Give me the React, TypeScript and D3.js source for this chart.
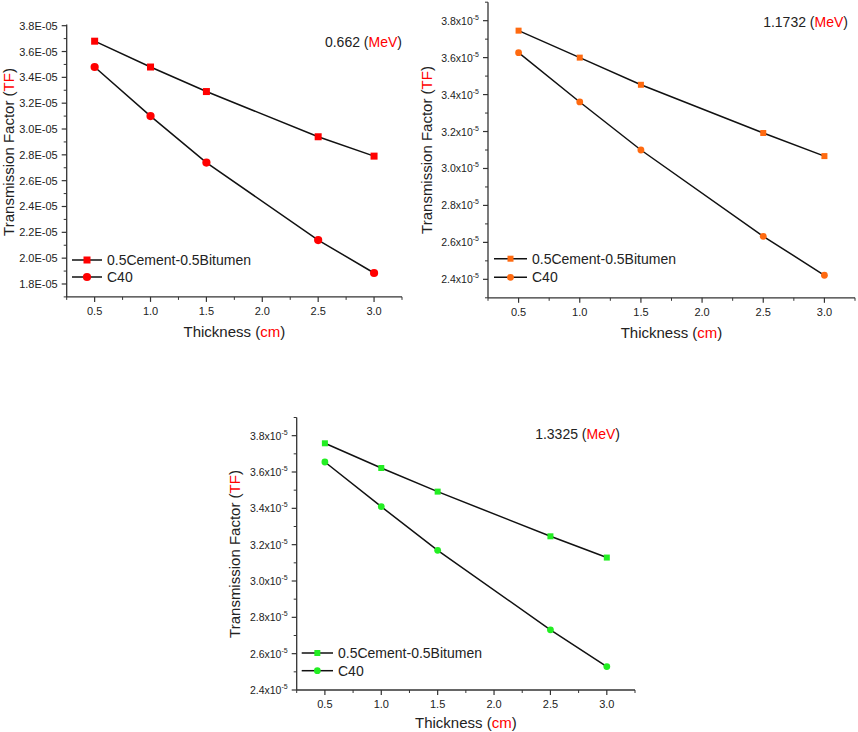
import * as d3 from "d3"

// thickness in cm, shared by all three panels
const thickness = [0.5, 1.0, 1.5, 2.5, 3.0]

// transmission factor values, in units of 1e-5
const tf662Blend = [3.68, 3.48, 3.29, 2.94, 2.79]
const tf662C40 = [3.48, 3.1, 2.74, 2.14, 1.885]
const tf1173Blend = [3.746, 3.6, 3.453, 3.192, 3.067]
const tf1173C40 = [3.627, 3.36, 3.1, 2.633, 2.422]
const tf1332Blend = [3.758, 3.622, 3.492, 3.246, 3.129]
const tf1332C40 = [3.655, 3.409, 3.169, 2.731, 2.529]

const seriesNames = ["0.5Cement-0.5Bitumen", "C40"]
const energies = ["0.662", "1.1732", "1.3325"]
const xTicks = [0.5, 1.0, 1.5, 2.0, 2.5, 3.0]

const FONT = "'Liberation Sans', Arial, sans-serif"

interface Panel {
  energy: string
  color: string
  blend: number[]
  c40: number[]
  xRange: [number, number]
  yDomain: [number, number]
  yRange: [number, number]
  yTicks: number[]
  sciE: boolean
  sq: number
  r: number
  yTitle: [number, number]
  xTitleY: number
  energyPos: [number, number]
  legend: [number, number, number, number] // x1, x2, yFirst, ySecond
}

const panels: Panel[] = [
  {
    energy: energies[0],
    color: "#ff0000",
    blend: tf662Blend,
    c40: tf662C40,
    xRange: [66.7, 402],
    yDomain: [1.7, 3.81],
    yRange: [296.9, 24.4],
    yTicks: [1.8, 2.0, 2.2, 2.4, 2.6, 2.8, 3.0, 3.2, 3.4, 3.6, 3.8],
    sciE: true,
    sq: 7,
    r: 4.1,
    yTitle: [13.5, 152],
    xTitleY: 337,
    energyPos: [402, 47],
    legend: [72, 102, 260, 277],
  },
  {
    energy: energies[1],
    color: "#ff6a10",
    blend: tf1173Blend,
    c40: tf1173C40,
    xRange: [488, 855],
    yDomain: [2.3, 3.9],
    yRange: [297.8, 2.2],
    yTicks: [2.4, 2.6, 2.8, 3.0, 3.2, 3.4, 3.6, 3.8],
    sciE: false,
    sq: 6,
    r: 3.4,
    yTitle: [432, 150],
    xTitleY: 338,
    energyPos: [848, 27],
    legend: [494, 527, 258.7, 277.3],
  },
  {
    energy: energies[2],
    color: "#22ee22",
    blend: tf1332Blend,
    c40: tf1332C40,
    xRange: [296.7, 635],
    yDomain: [2.4, 3.9],
    yRange: [690, 417.5],
    yTicks: [2.4, 2.6, 2.8, 3.0, 3.2, 3.4, 3.6, 3.8],
    sciE: false,
    sq: 6,
    r: 3.4,
    yTitle: [240, 554],
    xTitleY: 728,
    energyPos: [620, 439],
    legend: [301.7, 333, 653, 670.7],
  },
]

function ChartPanel({ p }: { p: Panel }) {
  const x = d3.scaleLinear().domain([0.25, 3.25]).range(p.xRange)
  const y = d3.scaleLinear().domain(p.yDomain).range(p.yRange)
  const [x0, x1] = p.xRange
  const yb = p.yRange[0]
  const line = d3
    .line<number>()
    .x((_, i) => x(thickness[i]))
    .y((d) => y(d))

  const xMinor = d3.range(0.25, 3.26, 0.5)
  const yMinor = d3
    .range(Math.ceil(p.yDomain[0] * 10), Math.floor(p.yDomain[1] * 10) + 1)
    .map((v) => v / 10)
    .filter((v) => Math.round(v * 10) % 2 === 1)

  const square = (cx: number, cy: number, key: string) => (
    <rect key={key} x={cx - p.sq / 2} y={cy - p.sq / 2} width={p.sq} height={p.sq} fill={p.color} />
  )
  const dot = (cx: number, cy: number, key: string) => (
    <circle key={key} cx={cx} cy={cy} r={p.r} fill={p.color} />
  )

  const [lx1, lx2, ly1, ly2] = p.legend
  const lmid = (lx1 + lx2) / 2

  return (
    <g fontFamily={FONT}>
      {/* axes */}
      <line x1={x0} x2={x1} y1={yb} y2={yb} stroke="#333" strokeWidth={1.3} />
      <line x1={x0} x2={x0} y1={yb} y2={p.yRange[1]} stroke="#333" strokeWidth={1.3} />

      {xTicks.map((t) => (
        <g key={"xt" + t}>
          <line x1={x(t)} x2={x(t)} y1={yb} y2={yb + 5} stroke="#333" strokeWidth={1.2} />
          <text x={x(t)} y={yb + 18} textAnchor="middle" fontSize={11} fill="#222">
            {t.toFixed(1)}
          </text>
        </g>
      ))}
      {xMinor.map((t) => (
        <line key={"xm" + t} x1={x(t)} x2={x(t)} y1={yb} y2={yb + 3} stroke="#333" strokeWidth={1} />
      ))}

      {p.yTicks.map((t) => (
        <g key={"yt" + t}>
          <line x1={x0 - 5} x2={x0} y1={y(t)} y2={y(t)} stroke="#333" strokeWidth={1.2} />
          {p.sciE ? (
            <text x={x0 - 9} y={y(t) + 4} textAnchor="end" fontSize={11} fill="#222">
              {t.toFixed(1) + "E-05"}
            </text>
          ) : (
            <text x={x0 - 9} y={y(t) + 4} textAnchor="end" fontSize={10.5} fill="#222">
              {t.toFixed(1) + "x10"}
              <tspan fontSize={7} dy={-5}>
                -5
              </tspan>
            </text>
          )}
        </g>
      ))}
      {yMinor.map((t) => (
        <line key={"ym" + t} x1={x0 - 3} x2={x0} y1={y(t)} y2={y(t)} stroke="#333" strokeWidth={1} />
      ))}

      {/* series */}
      <path d={line(p.blend) ?? ""} fill="none" stroke="#111" strokeWidth={1.5} />
      <path d={line(p.c40) ?? ""} fill="none" stroke="#111" strokeWidth={1.5} />
      {p.blend.map((v, i) => square(x(thickness[i]), y(v), "s" + i))}
      {p.c40.map((v, i) => dot(x(thickness[i]), y(v), "c" + i))}

      {/* legend */}
      <line x1={lx1} x2={lx2} y1={ly1} y2={ly1} stroke="#111" strokeWidth={1.5} />
      {square(lmid, ly1, "ls")}
      <text x={lx2 + 5} y={ly1 + 5} fontSize={14} fill="#222">
        {seriesNames[0]}
      </text>
      <line x1={lx1} x2={lx2} y1={ly2} y2={ly2} stroke="#111" strokeWidth={1.5} />
      {dot(lmid, ly2, "lc")}
      <text x={lx2 + 5} y={ly2 + 5} fontSize={14} fill="#222">
        {seriesNames[1]}
      </text>

      {/* energy label */}
      <text x={p.energyPos[0]} y={p.energyPos[1]} textAnchor="end" fontSize={14} fill="#222">
        {p.energy + " ("}
        <tspan fill="#ff0000">MeV</tspan>
        {")"}
      </text>

      {/* axis titles */}
      <text x={(x0 + x1) / 2} y={p.xTitleY} textAnchor="middle" fontSize={15} fill="#222">
        {"Thickness ("}
        <tspan fill="#ff0000">cm</tspan>
        {")"}
      </text>
      <text
        transform={`translate(${p.yTitle[0]},${p.yTitle[1]}) rotate(-90)`}
        textAnchor="middle"
        fontSize={15}
        fill="#222"
      >
        {"Transmission Factor ("}
        <tspan fill="#ff0000">TF</tspan>
        {")"}
      </text>
    </g>
  )
}

export default function App() {
  return (
    <svg
      width={858}
      height={732}
      style={{ position: "absolute", left: 0, top: 0, background: "#fff" }}
    >
      {panels.map((p) => (
        <ChartPanel key={p.energy} p={p} />
      ))}
    </svg>
  )
}
